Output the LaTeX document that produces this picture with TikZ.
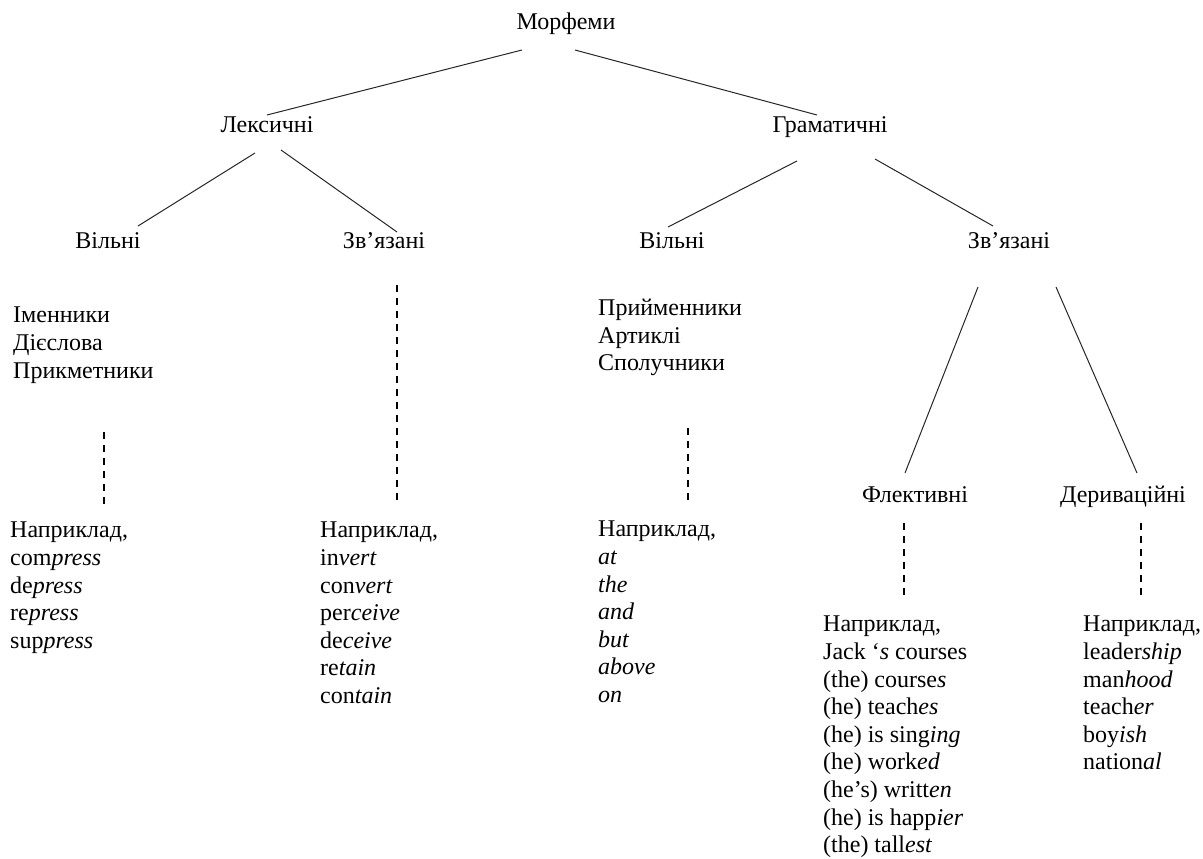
\documentclass[tikz,border=0pt]{standalone}
\usepackage{fontspec}
\setmainfont{Liberation Serif}
\usepackage{tikz}
\usetikzlibrary{positioning,calc}
\tikzset{>=latex}
\tikzset{
  lbl/.style={inner sep=0pt, anchor=base},
  lst/.style={inner sep=0pt, anchor=north west, align=left},
  branch/.style={line width=1pt, draw=black!85},
  dashln/.style={line width=1.6pt, dash pattern=on 7pt off 6pt}
}

\begin{document}
\begin{tikzpicture}[x=1pt,y=-1pt,font=\fontsize{24}{27.6}\selectfont]
  \useasboundingbox (0,0) rectangle (1203,859);

  % tree labels
  \node[lbl] (morf) at (566,30) {Морфеми};
  \node[lbl] (leks) at (267,132) {Лексичні};
  \node[lbl] (gram) at (830,132) {Граматичні};
  \node[lbl] (vil1) at (108,248) {Вільні};
  \node[lbl] (zv1) at (384,248) {Зв’язані};
  \node[lbl] (vil2) at (672,248) {Вільні};
  \node[lbl] (zv2) at (1009,248) {Зв’язані};
  \node[lbl] (flek) at (915,502) {Флективні};
  \node[lbl] (der) at (1123,502) {Дериваційні};

  % word classes
  \node[lst] (cls1) at (13,307) {Іменники\\Дієслова\\Прикметники};
  \node[lst] (cls3) at (598,299) {Прийменники\\Артиклі\\Сполучники};

  % examples
  \node[lst] (ex1) at (10,522) {Наприклад,\\com\textit{press}\\de\textit{press}\\re\textit{press}\\sup\textit{press}};
  \node[lst] (ex2) at (320,522) {Наприклад,\\in\textit{vert}\\con\textit{vert}\\per\textit{ceive}\\de\textit{ceive}\\re\textit{tain}\\con\textit{tain}};
  \node[lst] (ex3) at (598,521) {Наприклад,\\\textit{at}\\\textit{the}\\\textit{and}\\\textit{but}\\\textit{above}\\\textit{on}};
  \node[lst] (exf) at (823,616) {Наприклад,\\Jack ‘\textit{s} courses\\(the) course\textit{s}\\(he) teach\textit{es}\\(he) is sing\textit{ing}\\(he) work\textit{ed}\\(he’s) writt\textit{en}\\(he) is happ\textit{ier}\\(the) tall\textit{est}};
  \node[lst] (exd) at (1083,616) {Наприклад,\\leader\textit{ship}\\man\textit{hood}\\teach\textit{er}\\boy\textit{ish}\\nation\textit{al}};

  % branches
  \draw[branch] ([shift={(-44,20)}]morf.base) -- ([shift={(0,-17)}]leks.base);
  \draw[branch] ([shift={(9,20)}]morf.base) -- ([shift={(-13,-17)}]gram.base);
  \draw[branch] ([shift={(-12,21)}]leks.base) -- ([shift={(30,-22)}]vil1.base);
  \draw[branch] ([shift={(14,18)}]leks.base) -- ([shift={(13,-16)}]zv1.base);
  \draw[branch] ([shift={(-33,29)}]gram.base) -- ([shift={(-4,-21)}]vil2.base);
  \draw[branch] ([shift={(45,27)}]gram.base) -- ([shift={(-16,-22)}]zv2.base);
  \draw[branch] ([shift={(-31,39)}]zv2.base) -- ([shift={(-10,-29)}]flek.base);
  \draw[branch] ([shift={(47,39)}]zv2.base) -- ([shift={(14,-29)}]der.base);

  % dashed links to examples
  \draw[dashln] ([shift={(91,125)}]cls1.north west) -- ([shift={(94,-17)}]ex1.north west);
  \draw[dashln] ([shift={(13,37)}]zv1.base) -- ([shift={(77,-16)}]ex2.north west);
  \draw[dashln] ([shift={(90,129)}]cls3.north west) -- ([shift={(90,-16)}]ex3.north west);
  \draw[dashln] ([shift={(-11,21)}]flek.base) -- ([shift={(81,-16)}]exf.north west);
  \draw[dashln] ([shift={(18,21)}]der.base) -- ([shift={(58,-16)}]exd.north west);
\end{tikzpicture}
\end{document}
